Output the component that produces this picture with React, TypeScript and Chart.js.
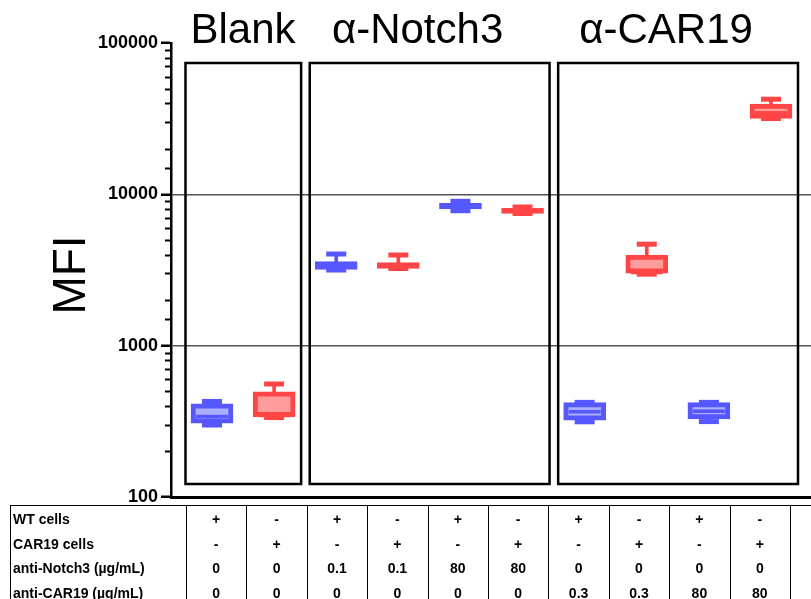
import React, { useEffect, useRef } from 'react';
import { Chart, registerables } from 'chart.js';

Chart.register(...registerables);

const FONT = '"Liberation Sans", Arial, Helvetica, sans-serif';

// Table rows (one entry per column / sample)
const wtCells = ['+', '-', '+', '-', '+', '-', '+', '-', '+', '-'];
const car19Cells = ['-', '+', '-', '+', '-', '+', '-', '+', '-', '+'];
const antiNotch3 = ['0', '0', '0.1', '0.1', '80', '80', '0', '0', '0', '0'];
const antiCar19 = ['0', '0', '0', '0', '0', '0', '0.3', '0.3', '80', '80'];
const rowLabels = ['WT cells', 'CAR19 cells', 'anti-Notch3 (µg/mL)', 'anti-CAR19 (µg/mL)'];

// Box plot statistics (MFI)
const mins = [299, 335, 3162, 3236, 7790, 7469, 314, 2967, 315, 31710];
const q1s = [308, 339, 3196, 3245, 8000, 7491, 322, 3008, 328, 31800];
const medians = [340, 345, 3380, 3390, 8350, 7780, 366, 3050, 368, 34570];
const q3s = [412, 496, 3588, 3534, 8724, 8085, 420, 3973, 420, 39540];
const maxs = [428, 558, 4034, 3972, 8995, 8246, 422, 4683, 422, 42530];

// Groups
const groupNames = ['Blank', 'α-Notch3', 'α-CAR19'];
const groupFirst = [0, 2, 6];
const groupLast = [1, 5, 9];
const groupTitleAt = [0.5, 3.31, 7.31];

// Axis
const yMin = 100;
const yMax = 100000;
const yMajorTicks = [100, 1000, 10000, 100000];
const yGridValues = [1000, 10000];
const yTitle = 'MFI';

const BLUE = '#5757ff';
const BLUE_LIGHT = '#abafff';
const RED = '#ff4545';
const RED_LIGHT = '#ff9d9d';

const idx = wtCells.map((_, i) => i);
const dark = wtCells.map((w) => (w === '+' ? BLUE : RED));
const light = wtCells.map((w) => (w === '+' ? BLUE_LIGHT : RED_LIGHT));

const decorPlugin = {
  id: 'decor',
  afterDatasetsDraw(chart: any) {
    const { ctx, chartArea, scales } = chart;
    const xs = scales.x;
    const ys = scales.y;
    ctx.save();
    // minor ticks
    ctx.strokeStyle = '#000';
    ctx.lineWidth = 2;
    ys.ticks.forEach((t: any) => {
      if (!yMajorTicks.includes(t.value)) {
        const y = Math.round(ys.getPixelForValue(t.value)) + 0.5;
        ctx.beginPath();
        ctx.moveTo(chartArea.left - 6, y);
        ctx.lineTo(chartArea.left, y);
        ctx.stroke();
      }
    });
    // group frames + titles
    const top = chartArea.top + 20;
    const bottom = chartArea.bottom - 13;
    groupNames.forEach((name, g) => {
      const left = xs.getPixelForValue(groupFirst[g]) - 26.5;
      const right = xs.getPixelForValue(groupLast[g]) + 27;
      ctx.strokeStyle = '#000';
      ctx.lineWidth = 2.5;
      ctx.strokeRect(left, top, right - left, bottom - top);
      ctx.fillStyle = '#000';
      ctx.font = `42px ${FONT}`;
      ctx.textAlign = 'center';
      ctx.textBaseline = 'alphabetic';
      ctx.fillText(name, xs.getPixelForValue(groupTitleAt[g]), chartArea.top);
    });
    // y title
    ctx.translate(85, (chartArea.top + chartArea.bottom) / 2 + 5);
    ctx.rotate(-Math.PI / 2);
    ctx.font = `46px ${FONT}`;
    ctx.textAlign = 'center';
    ctx.textBaseline = 'alphabetic';
    ctx.fillStyle = '#000';
    ctx.fillText(yTitle, 0, 0);
    ctx.restore();
  },
};

function ChartCanvas() {
  const ref = useRef<HTMLCanvasElement | null>(null);
  useEffect(() => {
    if (!ref.current) return;
    Chart.defaults.font.family = FONT;
    const chart = new Chart(ref.current, {
      type: 'bar',
      data: {
        datasets: [
          {
            type: 'line',
            data: idx.map((i) => ({ x: i, y: medians[i] })),
            showLine: false,
            pointStyle: 'line',
            pointRadius: 16,
            pointBorderWidth: 3.5,
            pointBorderColor: dark,
            order: 1,
          } as any,
          {
            type: 'line',
            data: [...idx.map((i) => ({ x: i, y: maxs[i] })), ...idx.map((i) => ({ x: i, y: mins[i] }))],
            showLine: false,
            pointStyle: 'line',
            pointRadius: 10,
            pointBorderWidth: 5,
            pointBorderColor: [...dark, ...dark],
            order: 2,
          } as any,
          {
            type: 'bar',
            data: idx.map((i) => ({ x: i, y: [q1s[i], q3s[i]] })),
            backgroundColor: light,
            borderColor: dark,
            borderWidth: 5,
            borderSkipped: false,
            barThickness: 42,
            grouped: false,
            order: 3,
          } as any,
          {
            type: 'bar',
            data: idx.map((i) => ({ x: i, y: [mins[i], maxs[i]] })),
            backgroundColor: dark,
            borderWidth: 0,
            barThickness: 3,
            grouped: false,
            order: 4,
          } as any,
        ],
      },
      options: {
        animation: false,
        responsive: false,
        maintainAspectRatio: false,
        layout: { autoPadding: false, padding: { top: 43, bottom: 102, left: 0, right: 0 } },
        plugins: { legend: { display: false }, tooltip: { enabled: false } },
        scales: {
          x: {
            type: 'linear',
            min: -0.66,
            max: 9.644,
            offset: false,
            ticks: { display: false },
            grid: { display: false, drawTicks: false },
            border: { display: true, color: '#000', width: 3 },
            afterFit: (s: any) => {
              s.height = 0;
            },
          },
          y: {
            type: 'logarithmic',
            min: yMin,
            max: yMax,
            afterFit: (s: any) => {
              s.width = 171;
            },
            ticks: {
              autoSkip: false,
              color: '#000',
              padding: 3,
              font: { size: 18, weight: 'bold', family: FONT },
              callback: (v: any) => (yMajorTicks.includes(Number(v)) ? String(v) : ''),
            },
            grid: {
              color: (c: any) => (yGridValues.includes(c.tick?.value) ? '#555' : 'rgba(0,0,0,0)'),
              lineWidth: 1.5,
              tickLength: 10,
              tickWidth: 2.5,
              tickColor: (c: any) => (yMajorTicks.includes(c.tick?.value) ? '#000' : 'rgba(0,0,0,0)'),
            },
            border: { display: true, color: '#000', width: 2.5 },
          },
        },
      } as any,
      plugins: [decorPlugin],
    });
    return () => chart.destroy();
  }, []);
  return <canvas ref={ref} width={811} height={599} style={{ position: 'absolute', left: 0, top: 0, width: 811, height: 599 }} />;
}

const tableRows = [wtCells, car19Cells, antiNotch3, antiCar19];

export default function App() {
  const tableTop = 505;
  const rowH = 24.5;
  const firstColRight = 186;
  const colW = 60.4;
  return (
    <div style={{ position: 'absolute', left: 0, top: 0, width: 811, height: 599, background: '#fff', overflow: 'hidden', fontFamily: FONT }}>
      <ChartCanvas />
      <div style={{ position: 'absolute', left: 10, top: tableTop, width: 801, height: 1, background: '#000' }} />
      <div style={{ position: 'absolute', left: 10, top: tableTop, width: 1, height: 599 - tableTop, background: '#000' }} />
      {wtCells.concat(['']).map((_, k) => (
        <div key={'v' + k} style={{ position: 'absolute', left: Math.round(firstColRight + colW * k), top: tableTop, width: 1, height: 599 - tableTop, background: '#000' }} />
      ))}
      {tableRows.map((row, r) => (
        <React.Fragment key={'r' + r}>
          <div style={{ position: 'absolute', left: 13, top: tableTop + 2 + rowH * r, height: rowH, lineHeight: rowH + 'px', fontSize: 14, fontWeight: 'bold', color: '#000', whiteSpace: 'nowrap' }}>
            {rowLabels[r]}
          </div>
          {row.map((v, c) => (
            <div key={c} style={{ position: 'absolute', left: firstColRight + colW * c, width: colW, top: tableTop + 2 + rowH * r, height: rowH, lineHeight: rowH + 'px', textAlign: 'center', fontSize: 14, fontWeight: 'bold', color: '#000' }}>
              {v}
            </div>
          ))}
        </React.Fragment>
      ))}
    </div>
  );
}
